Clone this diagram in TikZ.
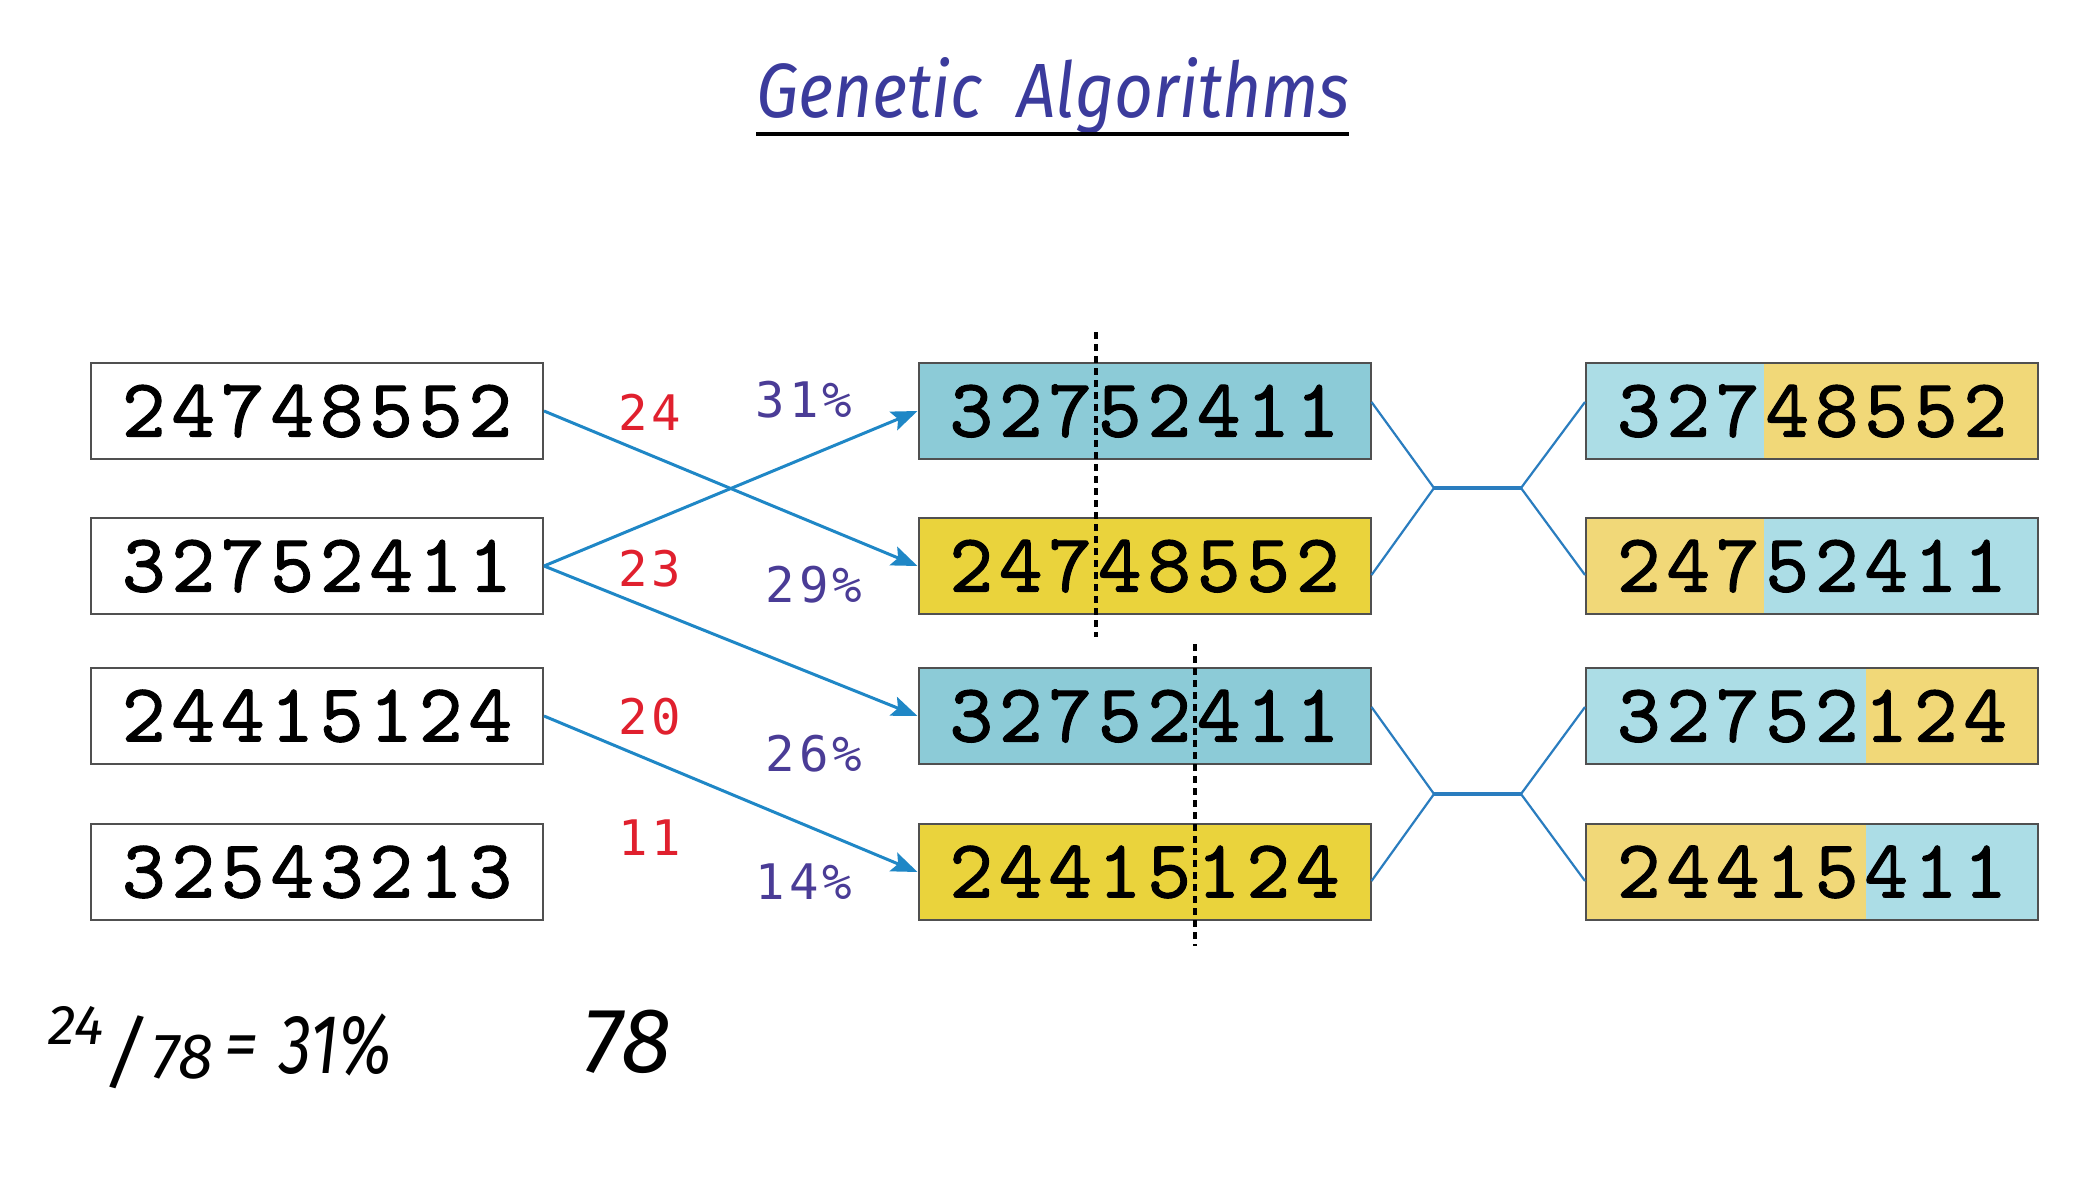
\documentclass[tikz,border=0pt]{standalone}
\usepackage{fontspec}
\usetikzlibrary{arrows.meta}
\newfontfamily\labelfont{DejaVu Sans Mono}[LetterSpace=8]
\newfontfamily\handfont{Fira Sans}
\newfontfamily\genefont{lmmono10-regular.otf}[FakeBold=1.3]
\newlength{\dgw}
\setlength{\dgw}{24.75pt}
\def\gene#1{\geneA#1\relax}
\def\geneA#1{\ifx#1\relax\else\makebox[\dgw]{#1}\expandafter\geneA\fi}
\definecolor{midteal}{HTML}{8CCBD7}
\definecolor{midyellow}{HTML}{EAD33C}
\definecolor{rblue}{HTML}{ACDDE6}
\definecolor{ryellow}{HTML}{F1D878}
\definecolor{boxgray}{HTML}{505050}
\definecolor{arrblue}{HTML}{1F87C6}
\definecolor{xblue}{HTML}{2A7DBF}
\definecolor{fitred}{HTML}{E0202E}
\definecolor{pctpurple}{HTML}{4A3C96}
\definecolor{titleblue}{HTML}{3B3B9C}
\begin{document}
\begin{tikzpicture}[x=0.5pt,y=-0.5pt,
  chrom/.style={rectangle, minimum width=226pt, minimum height=48pt, inner sep=0pt,
    draw=boxgray, line width=1pt, font=\genefont\fontsize{41.5}{41.5}\selectfont},
  fitlab/.style={text=fitred, inner sep=0pt, font=\labelfont\fontsize{24.5}{24.5}\selectfont},
  pctlab/.style={text=pctpurple, inner sep=0pt, font=\labelfont\fontsize{24.5}{24.5}\selectfont},
  arr/.style={draw=arrblue, line width=1.5pt, -{Stealth[length=13pt,width=10pt,inset=2.5pt]}},
  xline/.style={draw=xblue, line width=1.1pt},
  xbar/.style={draw=xblue, line width=2pt},
  cut/.style={draw=black, line width=1.7pt, dash pattern=on 3.5pt off 2.5pt},
  hand/.style={inner sep=0pt, font=\handfont\itshape}
]
\useasboundingbox (0,0) rectangle (2098,1182);

% title
\node[anchor=base, text=titleblue, inner sep=0pt, font=\handfont\itshape\fontsize{40}{40}\selectfont] (title) at (1053,118) {\resizebox{297pt}{30pt}{Genetic\ \ Algorithms}};
\coordinate (ulA) at (756,134);
\coordinate (ulB) at (1349,134);
\draw[line width=2pt] (ulA) -- (ulB);

% right box split fills
\fill[rblue]   (1586,363) rectangle (1764,459);
\fill[ryellow] (1764,363) rectangle (2038,459);
\fill[ryellow] (1586,518) rectangle (1764,614);
\fill[rblue]   (1764,518) rectangle (2038,614);
\fill[rblue]   (1586,668) rectangle (1866,764);
\fill[ryellow] (1866,668) rectangle (2038,764);
\fill[ryellow] (1586,824) rectangle (1866,920);
\fill[rblue]   (1866,824) rectangle (2038,920);

% left population
\node[chrom, fill=white] (L1) at (317,411) {\gene{24748552}};
\node[chrom, fill=white] (L2) at (317,566) {\gene{32752411}};
\node[chrom, fill=white] (L3) at (317,716) {\gene{24415124}};
\node[chrom, fill=white] (L4) at (317,872) {\gene{32543213}};

% selected
\node[chrom, fill=midteal]   (M1) at (1144.5,411) {\gene{32752411}};
\node[chrom, fill=midyellow] (M2) at (1144.5,566) {\gene{24748552}};
\node[chrom, fill=midteal]   (M3) at (1144.5,716) {\gene{32752411}};
\node[chrom, fill=midyellow] (M4) at (1144.5,872) {\gene{24415124}};

% offspring
\node[chrom] (R1) at (1812,411) {\gene{32748552}};
\node[chrom] (R2) at (1812,566) {\gene{24752411}};
\node[chrom] (R3) at (1812,716) {\gene{32752124}};
\node[chrom] (R4) at (1812,872) {\gene{24415411}};

% fitness labels
\node[fitlab] (f1) at (650,412) {24};
\node[fitlab] (f2) at (650,569) {23};
\node[fitlab] (f3) at (650,717) {20};
\node[fitlab] (f4) at (650,838) {11};

% percentages
\node[pctlab] (p1) at (804,400) {31\%};
\node[pctlab] (p2) at (814,585) {29\%};
\node[pctlab] (p3) at (814,754) {26\%};
\node[pctlab] (p4) at (804,882) {14\%};

% selection arrows
\draw[arr] (L1.east) -- (M2.west);
\draw[arr] (L2.east) -- (M1.west);
\draw[arr] (L2.east) -- (M3.west);
\draw[arr] (L3.east) -- (M4.west);

% crossover points
\coordinate (c1a) at (1096,332);
\coordinate (c1b) at (1096,637);
\coordinate (c2a) at (1195,644);
\coordinate (c2b) at (1195,946);
\draw[cut] (c1a) -- (c1b);
\draw[cut] (c2a) -- (c2b);

% crossover connectors
\coordinate (J1a) at (1434,488);
\coordinate (J1b) at (1521,488);
\coordinate (J2a) at (1434,794);
\coordinate (J2b) at (1521,794);
\draw[xline] ([yshift=4.5pt]M1.east) -- (J1a) -- ([yshift=-4.5pt]M2.east);
\draw[xbar] (J1a) -- (J1b);
\draw[xline] ([yshift=4.5pt]R1.west) -- (J1b) -- ([yshift=-4.5pt]R2.west);
\draw[xline] ([yshift=4.5pt]M3.east) -- (J2a) -- ([yshift=-4.5pt]M4.east);
\draw[xbar] (J2a) -- (J2b);
\draw[xline] ([yshift=4.5pt]R3.west) -- (J2b) -- ([yshift=-4.5pt]R4.west);

% handwritten notes
\node[hand, font=\handfont\itshape\fontsize{28}{28}\selectfont] (h1) at (76,1025) {24};
\node[hand, font=\handfont\itshape\fontsize{40}{40}\selectfont] (h2) at (126,1052) {/};
\node[hand, font=\handfont\itshape\fontsize{32}{32}\selectfont] (h3) at (182,1057) {78};
\node[hand, font=\handfont\itshape\fontsize{34}{34}\selectfont] (h4) at (241,1052) {=};
\node[hand, font=\handfont\itshape\fontsize{42}{42}\selectfont] (h5) at (336,1045) {\scalebox{0.78}[1]{31\%}};
\node[hand, font=\handfont\itshape\fontsize{46}{46}\selectfont] (h6) at (627,1042) {78};
\end{tikzpicture}
\end{document}
